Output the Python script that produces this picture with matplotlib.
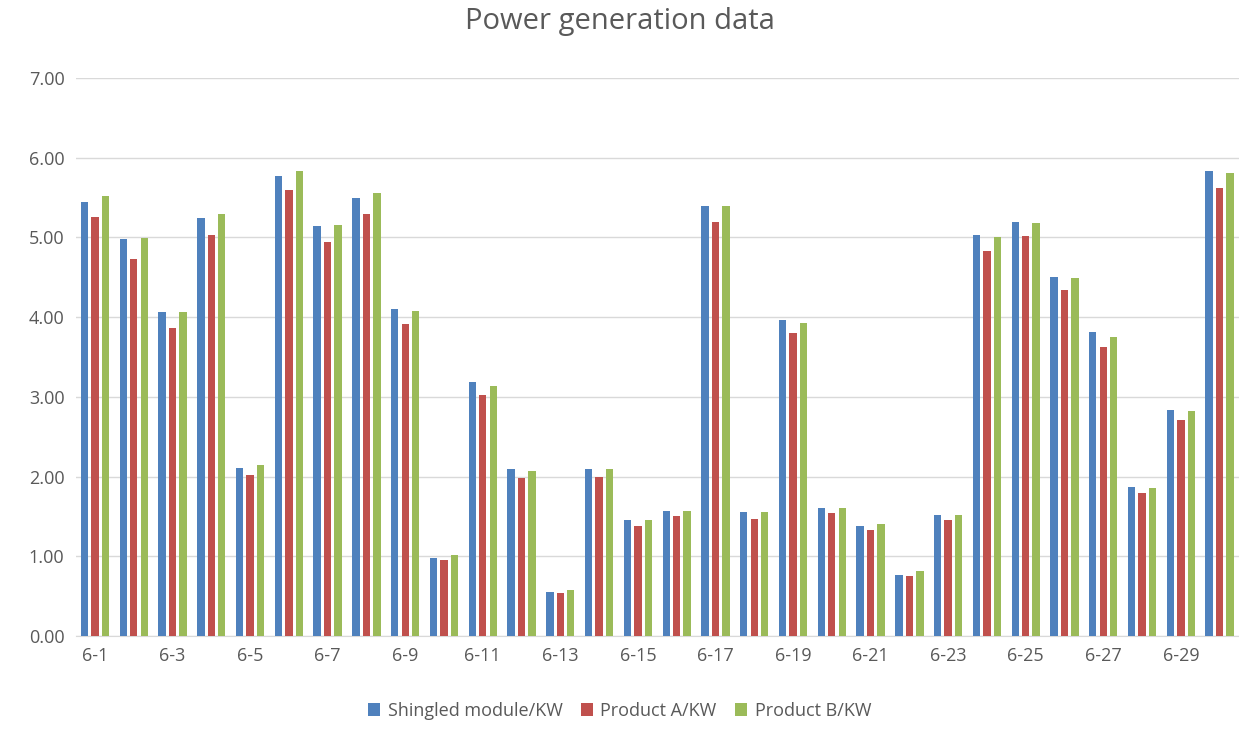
import numpy as np
import matplotlib.pyplot as plt

days = [f"6-{i}" for i in range(1, 31)]
shingled = [5.45, 4.98, 4.07, 5.24, 2.11, 5.77, 5.14, 5.50, 4.10, 0.98,
            3.18, 2.09, 0.55, 2.10, 1.45, 1.57, 5.39, 1.55, 3.97, 1.61,
            1.38, 0.77, 1.52, 5.03, 5.19, 4.50, 3.81, 1.87, 2.84, 5.83]
product_a = [5.25, 4.73, 3.86, 5.03, 2.02, 5.60, 4.94, 5.30, 3.91, 0.95,
             3.02, 1.98, 0.54, 2.00, 1.38, 1.51, 5.19, 1.47, 3.80, 1.54,
             1.33, 0.75, 1.46, 4.83, 5.02, 4.34, 3.62, 1.79, 2.71, 5.62]
product_b = [5.52, 4.99, 4.06, 5.30, 2.14, 5.83, 5.16, 5.56, 4.08, 1.02,
             3.14, 2.07, 0.58, 2.10, 1.45, 1.57, 5.39, 1.55, 3.93, 1.61,
             1.40, 0.81, 1.52, 5.00, 5.18, 4.49, 3.75, 1.86, 2.82, 5.81]
series = [("Shingled module/KW", shingled, "#4F81BD"),
          ("Product A/KW", product_a, "#C0504D"),
          ("Product B/KW", product_b, "#9BBB59")]

plt.rcParams["font.family"] = ["Open Sans", "DejaVu Sans"]
fig = plt.figure(figsize=(12.39, 7.36), dpi=100)
ax = fig.add_axes([0.061, 0.136, 0.939, 0.758])

x = np.arange(len(days))
w = 0.19
step = 0.27
for i, (name, vals, col) in enumerate(series):
    ax.bar(x + (i - 1) * step, vals, w, color=col, label=name, zorder=3)

ax.set_xlim(-0.5, len(days) - 0.5)
ax.set_ylim(0, 7)
ax.set_yticks(np.arange(0, 8, 1))
ax.set_yticklabels([f"{v:.2f}" for v in range(8)], fontsize=13, color="#595959")
ax.set_xticks(x[::2])
ax.set_xticklabels(days[::2], fontsize=13, color="#595959")
ax.tick_params(length=0, pad=8)
ax.grid(axis="y", color="#D9D9D9", linewidth=1, zorder=0)
for s in ["top", "right", "left"]:
    ax.spines[s].set_visible(False)
ax.spines["bottom"].set_color("#D9D9D9")

fig.suptitle("Power generation data", fontsize=21, color="#595959", y=0.99)
fig.legend(loc="lower center", ncol=3, frameon=False, fontsize=13,
           bbox_to_anchor=(0.5, 0.0), handlelength=0.7, handleheight=0.7,
           labelcolor="#595959", columnspacing=1.0, handletextpad=0.4)

fig.savefig("out.png", dpi=100)
